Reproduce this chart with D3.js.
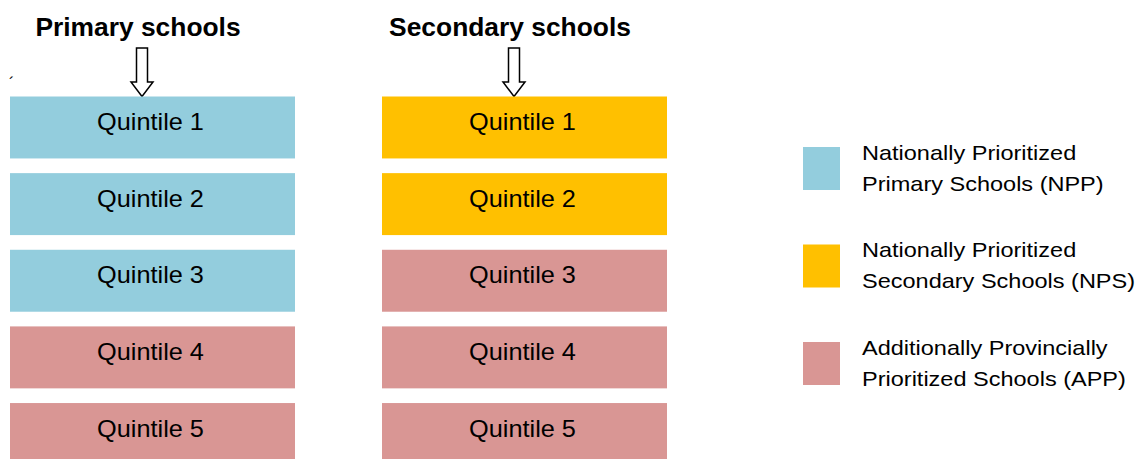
<!DOCTYPE html>
<html>
<head>
<meta charset="utf-8">
<script src="https://cdn.jsdelivr.net/npm/d3@7"></script>
<style>
  html, body { margin: 0; padding: 0; background: #fff; }
  svg { display: block; }
</style>
</head>
<body>
<svg width="1142" height="459"></svg>
<script>
// columns of the diagram
const schoolTypes = ['Primary schools', 'Secondary schools'];
const quintiles = ['Quintile 1', 'Quintile 2', 'Quintile 3', 'Quintile 4', 'Quintile 5'];
// which prioritization group each quintile falls in, per column
const primaryGroups = ['NPP', 'NPP', 'NPP', 'APP', 'APP'];
const secondaryGroups = ['NPS', 'NPS', 'APP', 'APP', 'APP'];
// legend
const groupKeys = ['NPP', 'NPS', 'APP'];
const groupLabels = [
  ['Nationally Prioritized', 'Primary Schools (NPP)'],
  ['Nationally Prioritized', 'Secondary Schools (NPS)'],
  ['Additionally Provincially', 'Prioritized Schools (APP)']
];

const svg = d3.select('svg');
svg.selectAll('*').remove();

const font = '"Liberation Sans", Arial, sans-serif';

const color = d3.scaleOrdinal()
  .domain(groupKeys)
  .range(['#93cddd', '#ffc000', '#d99694']);

const x = d3.scaleBand()
  .domain(schoolTypes)
  .range([10, 667])
  .paddingInner(87 / 372);

const y = d3.scaleBand()
  .domain(quintiles)
  .range([96.5, 465])
  .paddingInner(14.7 / 76.7);

const top0 = y(quintiles[0]);

const columns = schoolTypes.map(function(name, i) {
  const groups = i === 0 ? primaryGroups : secondaryGroups;
  return {
    name: name,
    cells: quintiles.map(function(q, j) {
      return { quintile: q, group: groups[j] };
    })
  };
});

const col = svg.append('g')
  .selectAll('g')
  .data(columns)
  .enter()
  .append('g')
  .attr('transform', function(d) {
    return 'translate(' + x(d.name) + ',0)';
  });

// header
col.append('text')
  .attr('transform', 'translate(' + (x.bandwidth() / 2 - 14.5) + ',36) scale(1.055,1)')
  .attr('text-anchor', 'middle')
  .attr('font-family', font)
  .attr('font-weight', 'bold')
  .attr('font-size', 25)
  .attr('fill', '#000')
  .text(function(d) { return d.name; });

// down arrow, tip touching the first box
const arrowLine = d3.line();
col.append('path')
  .attr('transform', 'translate(' + (x.bandwidth() / 2 - 10.5) + ',' + top0 + ')')
  .attr('d', arrowLine([
    [-5.5, -48.5], [5.5, -48.5], [5.5, -14.5], [11, -14.5], [0, 0], [-11, -14.5], [-5.5, -14.5]
  ]) + 'Z')
  .attr('fill', '#fff')
  .attr('stroke', '#000')
  .attr('stroke-width', 1.5)
  .attr('stroke-linejoin', 'miter');

const cell = col.selectAll('g.cell')
  .data(function(d) { return d.cells; })
  .enter()
  .append('g')
  .attr('class', 'cell');

cell.append('rect')
  .attr('x', 0)
  .attr('y', function(d) { return y(d.quintile); })
  .attr('width', x.bandwidth())
  .attr('height', y.bandwidth())
  .attr('fill', function(d) { return color(d.group); });

cell.append('text')
  .attr('transform', function(d) {
    return 'translate(' + (x.bandwidth() / 2 - 2) + ',' + (y(d.quintile) + y.bandwidth() / 2 + 2.5) + ') scale(1.1,1)';
  })
  .attr('text-anchor', 'middle')
  .attr('font-family', font)
  .attr('font-size', 23)
  .attr('fill', '#000')
  .text(function(d) { return d.quintile; });

// stray mark near the top-left
svg.append('text')
  .attr('x', 9)
  .attr('y', 89)
  .attr('font-family', font)
  .attr('font-size', 16)
  .attr('fill', '#000')
  .text('\u00b4');

// legend
const ly = d3.scaleBand()
  .domain(groupKeys)
  .range([147, 385])
  .paddingInner(54.5 / 97.5);

const legend = svg.append('g')
  .selectAll('g')
  .data(groupKeys)
  .enter()
  .append('g')
  .attr('transform', function(d) {
    return 'translate(0,' + ly(d) + ')';
  });

legend.append('rect')
  .attr('x', 803)
  .attr('width', 37)
  .attr('height', ly.bandwidth())
  .attr('fill', function(d) { return color(d); });

legend.selectAll('text')
  .data(function(d, i) { return groupLabels[i]; })
  .enter()
  .append('text')
  .attr('transform', function(d, i) {
    return 'translate(862,' + (12.5 + i * 31) + ') scale(1.12,1)';
  })
  .attr('font-family', font)
  .attr('font-size', 21)
  .attr('fill', '#000')
  .text(function(d) { return d; });
</script>
</body>
</html>
